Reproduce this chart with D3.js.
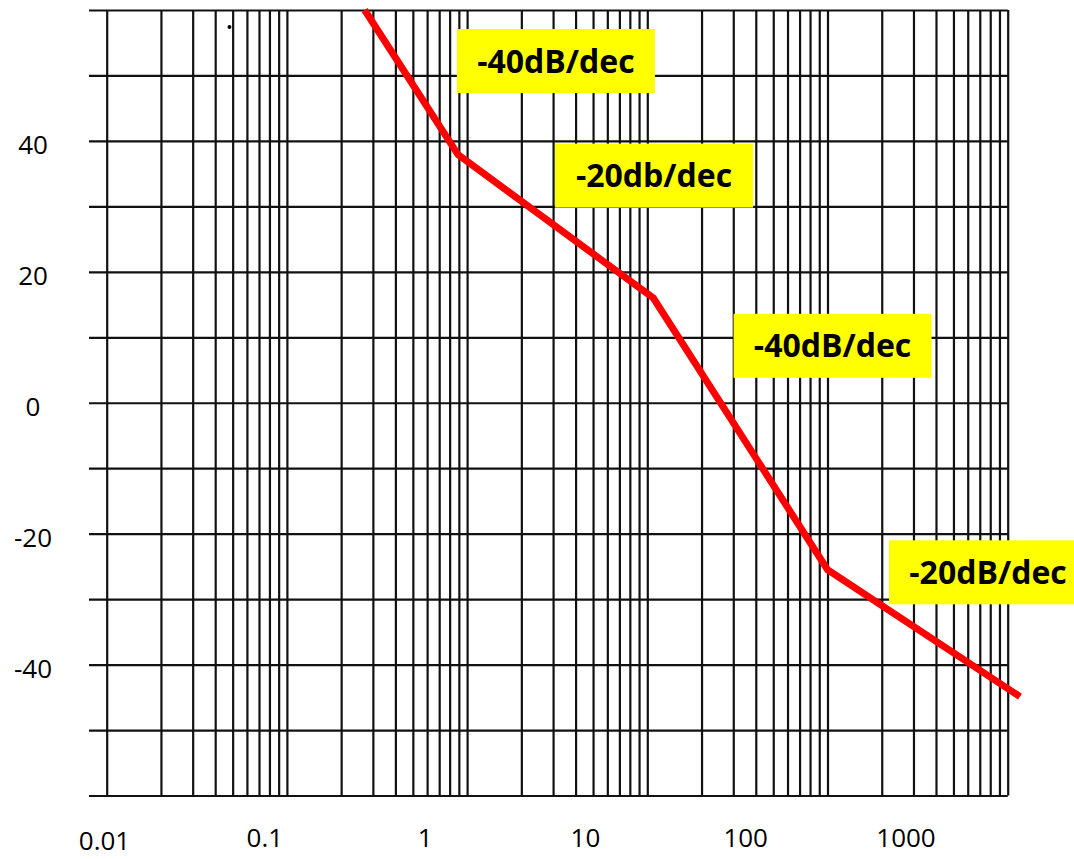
<!DOCTYPE html>
<html>
<head>
  <meta charset="utf-8">
  <title>Bode magnitude asymptotes</title>
  <script src="https://d3js.org/d3.v7.min.js"></script>
  <style>
    body { margin: 0; background: #fff; }
    svg { display: block; }
  </style>
</head>
<body>
  <div id="chart"></div>

  <script>
    // asymptotic magnitude curve (frequency, dB)
    const freq = [0.27, 0.89, 10.8, 100, 1170];
    const gainDb = [60, 37.9, 16, -25.5, -44.9];

    // axis labels
    const xTickLabels = [0.01, 0.1, 1, 10, 100, 1000];
    const yTickLabels = [40, 20, 0, -20, -40];

    // slope notes (centre of each yellow box)
    const noteText = ["-40dB/dec", "-20db/dec", "-40dB/dec", "-20dB/dec"];
    const noteFreq = [3.11, 10.9, 106.7, 778];
    const noteDb = [52.2, 34.7, 8.7, -25.9];

    // stray dot on the scanned paper
    const dotFreq = [0.048];
    const dotDb = [57.4];

    const width = 1074, height = 859;
    const plotLeft = 106.7, plotRight = 1007.7, plotTop = 10, plotBottom = 795.5;

    const svg = d3.select("#chart").append("svg")
      .attr("width", width)
      .attr("height", height);

    const x = d3.scaleLog().domain([0.01, 1000]).range([plotLeft, plotRight]);
    const y = d3.scaleLinear().domain([-60, 60]).range([plotBottom, plotTop]);
    // the printed frequency labels sit a little off the grid decades
    const xLabel = d3.scaleLog().domain([0.01, 1000]).range([104.5, 906]);

    // vertical grid: 1..9 in every decade
    const minor = [];
    for (let d = -2; d <= 2; d++) {
      for (let k = 1; k <= 9; k++) minor.push(k * Math.pow(10, d));
    }
    minor.push(1000);

    const xGrid = svg.append("g")
      .attr("transform", `translate(0,${plotBottom})`)
      .call(d3.axisBottom(x).tickValues(minor).tickSize(-(plotBottom - plotTop)).tickFormat(""));
    xGrid.select(".domain").remove();
    xGrid.selectAll("line").attr("stroke", "#111").attr("stroke-width", 2.2);

    const yGrid = svg.append("g")
      .attr("transform", "translate(89,0)")
      .call(d3.axisRight(y).tickValues(d3.range(-60, 61, 10)).tickSize(plotRight - 89).tickFormat(""));
    yGrid.select(".domain").remove();
    yGrid.selectAll("line").attr("stroke", "#111").attr("stroke-width", 2.2);

    // labels
    svg.append("g").selectAll("text")
      .data(xTickLabels)
      .join("text")
      .attr("x", d => xLabel(d))
      .attr("y", d => d === 0.01 ? 850 : 847)
      .attr("text-anchor", "middle")
      .attr("font-family", "'Open Sans', sans-serif")
      .attr("font-size", 26)
      .attr("fill", "#000")
      .text(d => String(d));

    svg.append("g").selectAll("text")
      .data(yTickLabels)
      .join("text")
      .attr("x", 33)
      .attr("y", d => y(d) + 4)
      .attr("dy", "0.35em")
      .attr("text-anchor", "middle")
      .attr("font-family", "'Open Sans', sans-serif")
      .attr("font-size", 26)
      .attr("fill", "#000")
      .text(d => String(d));

    svg.append("circle")
      .attr("cx", x(dotFreq[0]))
      .attr("cy", y(dotDb[0]))
      .attr("r", 2)
      .attr("fill", "#000");

    // red curve
    const pts = freq.map((f, i) => [f, gainDb[i]]);
    svg.append("path")
      .datum(pts)
      .attr("fill", "none")
      .attr("stroke", "#ff0000")
      .attr("stroke-width", 7)
      .attr("stroke-linejoin", "miter")
      .attr("d", d3.line().x(d => x(d[0])).y(d => y(d[1])));

    // yellow notes
    const notes = svg.append("g").selectAll("g")
      .data(noteText.map((t, i) => ({ t, f: noteFreq[i], db: noteDb[i] })))
      .join("g")
      .attr("transform", d => `translate(${x(d.f)},${y(d.db)})`);

    notes.append("rect")
      .attr("x", -99)
      .attr("y", -32)
      .attr("width", 198)
      .attr("height", 64)
      .attr("fill", "#ffff00");

    notes.append("text")
      .attr("text-anchor", "middle")
      .attr("dy", "0.36em")
      .attr("font-family", "'Open Sans', sans-serif")
      .attr("font-weight", "bold")
      .attr("font-size", 32)
      .attr("fill", "#000")
      .text(d => d.t);
  </script>
</body>
</html>
